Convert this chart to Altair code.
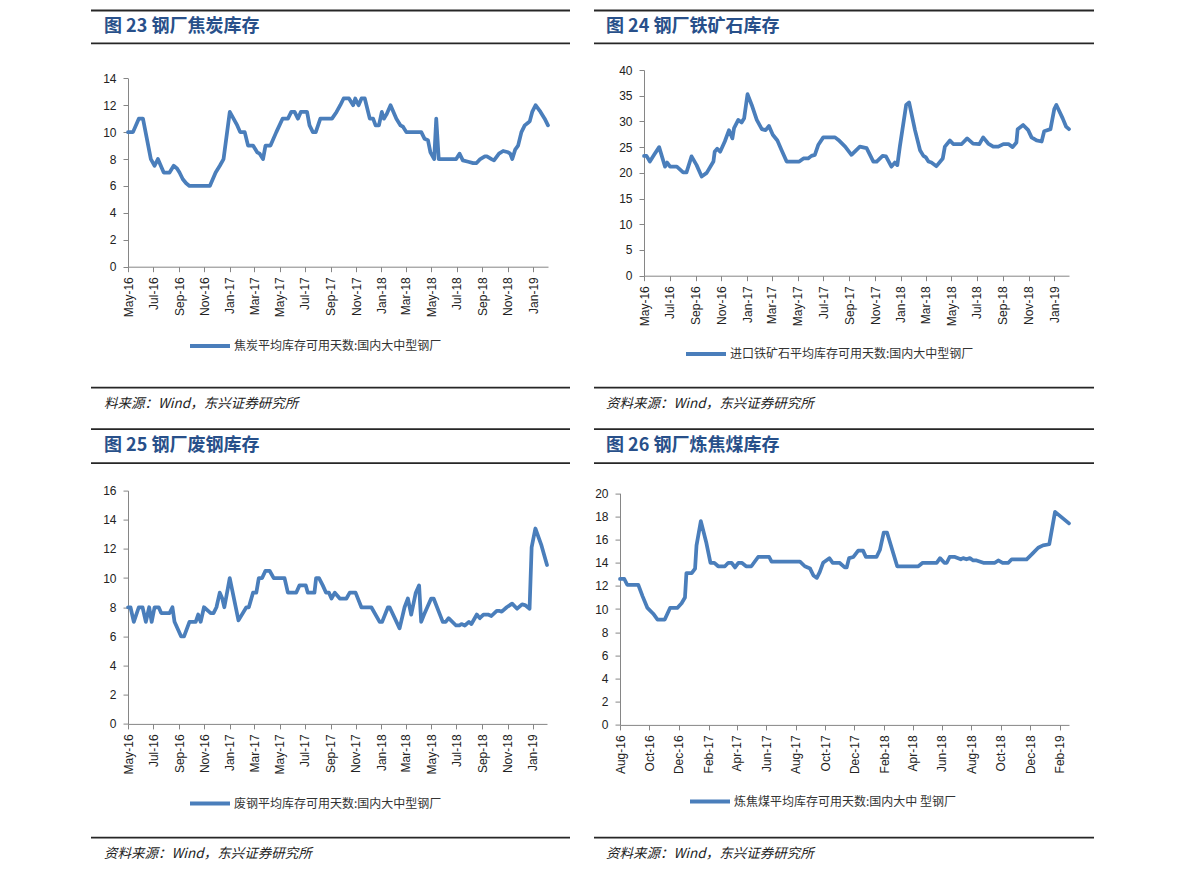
import altair as alt
import pandas as pd

# ---------------- data ----------------
coke_dates = ["2016-05-01","2016-05-13","2016-05-27","2016-06-06","2016-06-25","2016-07-04","2016-07-12","2016-07-26",
"2016-08-09","2016-08-19","2016-08-27","2016-09-02","2016-09-10","2016-09-18","2016-09-26","2016-11-14","2016-11-28",
"2016-12-08","2016-12-17","2017-01-01","2017-01-10","2017-01-19","2017-01-26","2017-02-06","2017-02-14","2017-02-26",
"2017-03-08","2017-03-14","2017-03-22","2017-03-28","2017-04-09","2017-04-23","2017-05-08","2017-05-21","2017-05-29",
"2017-06-06","2017-06-14","2017-06-21","2017-07-06","2017-07-12","2017-07-20","2017-07-27","2017-08-07","2017-09-04",
"2017-09-15","2017-09-24","2017-10-02","2017-10-15","2017-10-25","2017-10-30","2017-11-07","2017-11-14","2017-11-22",
"2017-12-04","2017-12-12","2017-12-18","2017-12-26","2018-01-02","2018-01-07","2018-01-13","2018-01-23","2018-02-06",
"2018-02-16","2018-02-22","2018-03-02","2018-04-07","2018-04-15","2018-04-23","2018-04-29","2018-05-08","2018-05-13",
"2018-05-19","2018-06-30","2018-07-08","2018-07-16","2018-07-29","2018-08-10","2018-08-18","2018-08-27","2018-09-07",
"2018-09-12","2018-09-23","2018-09-29","2018-10-11","2018-10-21","2018-11-02","2018-11-07","2018-11-12","2018-11-19",
"2018-11-26","2018-12-04","2018-12-12","2018-12-20","2018-12-24","2018-12-30","2019-01-07","2019-01-19","2019-01-29",
"2019-02-06"]
coke_values = [10,10,11,11,8,7.5,8,7,7,7.5,7.3,7,6.5,6.2,6,6,7,7.5,8,11.5,11,10.5,10,10,9,9,8.5,8.4,8,9,9,10,11,11,
11.5,11.5,11,11.5,11.5,10.5,10,10,11,11,11.5,12,12.5,12.5,12,12.5,12,12.5,12.5,11,11,10.5,10.5,11.5,11,11.3,12,11,
10.5,10.4,10,10,9.5,9.4,8.5,8,11,8,8,8.4,7.9,7.8,7.7,7.7,8,8.2,8.2,8,7.9,8.4,8.6,8.5,8.4,8,8.7,9,10,10.5,10.7,10.8,
11.5,12,11.5,11,10.5]

ore_dates = ["2016-05-01","2016-05-07","2016-05-15","2016-05-25","2016-06-06","2016-06-20","2016-06-25","2016-07-02",
"2016-07-18","2016-08-02","2016-08-10","2016-08-22","2016-09-03","2016-09-15","2016-09-27","2016-10-13","2016-10-16",
"2016-10-22","2016-10-29","2016-11-09","2016-11-19","2016-11-27","2016-12-01","2016-12-11","2016-12-19","2016-12-25",
"2017-01-02","2017-01-12","2017-01-24","2017-02-05","2017-02-14","2017-02-22","2017-03-03","2017-03-14","2017-03-24",
"2017-04-05","2017-05-05","2017-05-15","2017-05-26","2017-06-03","2017-06-11","2017-06-19","2017-07-01","2017-07-29",
"2017-08-06","2017-08-22","2017-09-06","2017-09-26","2017-10-12","2017-10-28","2017-11-05","2017-11-19","2017-11-27",
"2017-12-10","2017-12-18","2017-12-24","2017-12-30","2018-01-14","2018-01-21","2018-02-04","2018-02-16","2018-02-24",
"2018-03-02","2018-03-08","2018-03-15","2018-03-27","2018-04-11","2018-04-16","2018-04-28","2018-05-06","2018-05-26",
"2018-06-08","2018-06-22","2018-07-07","2018-07-16","2018-07-28","2018-08-09","2018-08-21","2018-09-02","2018-09-14",
"2018-09-24","2018-10-03","2018-10-06","2018-10-19","2018-10-31","2018-11-08","2018-11-20","2018-12-02","2018-12-08",
"2018-12-23","2019-01-01","2019-01-06","2019-01-21","2019-01-29","2019-02-05"]
ore_values = [23.3,23.3,22.2,23.5,25.0,21.2,22.0,21.2,21.2,20.1,20.1,23.2,21.5,19.3,20.0,22.2,24.1,24.7,24.1,26.1,28.3,
26.7,28.7,30.3,29.8,30.6,35.3,33.2,30.3,28.5,28.3,29.1,27.4,26.3,24.4,22.2,22.2,22.8,22.8,23.3,23.5,25.4,26.9,26.9,
26.4,25.1,23.5,25.1,24.8,22.2,22.2,23.3,23.2,21.2,22.0,21.5,25.1,33.2,33.7,28.3,24.4,23.3,23.0,22.2,22.0,21.3,22.8,
25.1,26.3,25.6,25.6,26.7,25.7,25.6,26.9,25.7,25.1,25.1,25.6,25.6,25.0,25.9,28.5,29.3,28.3,26.9,26.3,26.1,28.1,28.5,
32.4,33.2,30.6,29.0,28.5]

scrap_dates = ["2016-05-01","2016-05-07","2016-05-15","2016-05-27","2016-06-05","2016-06-13","2016-06-21","2016-06-27",
"2016-07-04","2016-07-14","2016-07-20","2016-08-09","2016-08-16","2016-08-21","2016-09-06","2016-09-13","2016-09-26",
"2016-10-11","2016-10-17","2016-10-23","2016-10-31","2016-11-10","2016-11-16","2016-11-23","2016-11-30","2016-12-08",
"2016-12-14","2016-12-19","2017-01-01","2017-01-22","2017-02-10","2017-02-16","2017-02-26","2017-03-06","2017-03-12",
"2017-03-20","2017-03-28","2017-04-07","2017-04-17","2017-05-13","2017-05-21","2017-06-10","2017-06-18","2017-07-03",
"2017-07-08","2017-07-24","2017-07-28","2017-08-04","2017-08-13","2017-08-21","2017-08-28","2017-09-03","2017-09-11",
"2017-09-23","2017-10-09","2017-10-17","2017-10-31","2017-11-14","2017-12-08","2017-12-28","2018-01-03","2018-01-17",
"2018-01-21","2018-02-14","2018-02-26","2018-03-06","2018-03-14","2018-03-25","2018-04-02","2018-04-07","2018-04-14",
"2018-05-01","2018-05-07","2018-05-29","2018-06-05","2018-06-12","2018-06-30","2018-07-08","2018-07-13","2018-07-21",
"2018-07-31","2018-08-06","2018-08-19","2018-08-26","2018-09-04","2018-09-15","2018-09-23","2018-10-06","2018-10-13",
"2018-10-18","2018-10-30","2018-11-12","2018-11-24","2018-12-06","2018-12-13","2018-12-24","2018-12-29","2019-01-07",
"2019-01-21","2019-02-04"]
scrap_values = [8,8,7,8,8,7,8,7,8,8,7.6,7.6,8,7,6,6,7,7,7.5,7,8,7.75,7.6,7.6,8,9,8.6,8,10,7.1,8,8,9,9,10,10,10.5,10.5,
10,10,9,9,9.5,9.5,9,9,10,10,9.5,9,9,8.6,9,8.6,8.6,9,9,8,8,7,7,8,8,6.55,8,8.6,7.5,9,9.5,7,7.5,8.6,8.6,7,7,7.25,6.75,
6.75,6.85,6.75,7,6.85,7.5,7.25,7.5,7.5,7.4,7.75,7.75,7.7,8,8.25,7.9,8.2,8.15,7.9,12.1,13.4,12.3,10.9]

coal_dates = ["2016-08-01","2016-08-10","2016-08-16","2016-09-08","2016-09-17","2016-09-27","2016-10-09","2016-10-18",
"2016-11-02","2016-11-13","2016-11-28","2016-12-07","2016-12-14","2016-12-17","2016-12-28","2017-01-04","2017-01-07",
"2017-01-16","2017-01-27","2017-02-05","2017-02-13","2017-02-21","2017-03-07","2017-03-14","2017-03-21","2017-03-28",
"2017-04-04","2017-04-11","2017-04-20","2017-05-01","2017-05-15","2017-06-07","2017-06-12","2017-08-10","2017-08-20",
"2017-08-31","2017-09-07","2017-09-14","2017-09-20","2017-09-27","2017-10-10","2017-10-17","2017-10-31","2017-11-11",
"2017-11-15","2017-11-20","2017-11-29","2017-12-09","2017-12-19","2017-12-25","2018-01-16","2018-01-23","2018-01-31",
"2018-02-07","2018-02-28","2018-04-13","2018-04-22","2018-05-21","2018-05-28","2018-06-06","2018-06-11","2018-06-17",
"2018-06-28","2018-07-10","2018-07-15","2018-07-22","2018-07-29","2018-08-05","2018-08-12","2018-08-26","2018-09-19",
"2018-09-26","2018-10-05","2018-10-17","2018-10-24","2018-11-24","2018-12-04","2018-12-18","2018-12-28","2019-01-10",
"2019-01-22","2019-02-20"]
coal_values = [12.6,12.6,12.1,12.1,11.1,10.1,9.6,9.1,9.1,10.1,10.1,10.5,11,13.1,13.1,13.5,15.5,17.6,15.8,14.0,14.0,13.7,
13.7,14.0,14.0,13.6,14.0,14.0,13.7,13.7,14.5,14.5,14.1,14.1,13.7,13.5,12.9,12.7,13.2,14.0,14.4,14.0,14.0,13.6,13.6,
14.4,14.5,15.05,15.05,14.5,14.5,15.1,16.6,16.6,13.7,13.7,14.0,14.0,14.4,14.0,14.0,14.5,14.5,14.3,14.4,14.3,14.4,14.2,
14.2,14.0,14.0,14.2,14.0,14.0,14.3,14.3,14.7,15.3,15.5,15.6,18.4,17.4]

ticks_main = ["2016-05-01","2016-07-01","2016-09-01","2016-11-01","2017-01-01","2017-03-01","2017-05-01","2017-07-01",
"2017-09-01","2017-11-01","2018-01-01","2018-03-01","2018-05-01","2018-07-01","2018-09-01","2018-11-01","2019-01-01"]
ticks_coal = ["2016-08-01","2016-10-01","2016-12-01","2017-02-01","2017-04-01","2017-06-01","2017-08-01","2017-10-01",
"2017-12-01","2018-02-01","2018-04-01","2018-06-01","2018-08-01","2018-10-01","2018-12-01","2019-02-01"]

titles = ["图 23 钢厂焦炭库存", "图 24 钢厂铁矿石库存", "图 25 钢厂废钢库存", "图 26 钢厂炼焦煤库存"]
series_names = ["焦炭平均库存可用天数:国内大中型钢厂", "进口铁矿石平均库存可用天数:国内大中型钢厂",
                "废钢平均库存可用天数:国内大中型钢厂", "炼焦煤平均库存可用天数:国内大中 型钢厂"]
sources = ["料来源：Wind，东兴证券研究所", "资料来源：Wind，东兴证券研究所",
           "资料来源：Wind，东兴证券研究所", "资料来源：Wind，东兴证券研究所"]

# ---------------- style ----------------
LINE_COLOR = "#4A7EBB"
RULE_COLOR = "#262626"
TITLE_COLOR = "#28508A"
AXIS_COLOR = "#868686"
TEXT_COLOR = "#222222"
FONT = "Liberation Sans"
CJK = "Noto Sans CJK SC"


def dt(s):
    y, m, d = s.split("-")
    return alt.DateTime(year=int(y), month=int(m), date=int(d))


def panel(dates, values, series, title, source, g):
    # view origin (shared by the panels of one row); the plot itself may start lower
    ox, oy = g["origin"]
    plot_top, plot_bottom = g["plot_y"]
    view_h = plot_bottom - oy
    df = pd.DataFrame({"date": pd.to_datetime(dates), "value": values, "series": series})
    x = alt.X("date:T", title=None,
              scale=alt.Scale(domain=[dt(g["x0"]), dt(g["x1"])], nice=False),
              axis=alt.Axis(values=[dt(t) for t in g["xticks"]], format="%b-%y", labelAngle=-90,
                            labelFont=FONT, labelFontSize=12, labelColor=TEXT_COLOR,
                            domainColor=AXIS_COLOR, tickColor=AXIS_COLOR, tickSize=5,
                            labelPadding=5, grid=False, labelOverlap=False, labelBound=False,
                            labelFlush=False))
    y = alt.Y("value:Q", title=None,
              scale=alt.Scale(domain=[0, g["ymax"]], nice=False, range=[view_h, plot_top - oy]),
              axis=alt.Axis(values=g["yticks"], labelFont=FONT, labelFontSize=12, labelColor=TEXT_COLOR,
                            domainColor=AXIS_COLOR, tickColor=AXIS_COLOR, tickSize=5,
                            labelPadding=7, grid=False))
    color = alt.Color("series:N", scale=alt.Scale(range=[LINE_COLOR]),
                      legend=alt.Legend(orient="none", legendX=g["leg_x"] - ox, legendY=g["leg_y"] - oy - 22,
                                        title=None, symbolType="stroke", symbolSize=1600,
                                        symbolStrokeWidth=4, labelFont=CJK, labelFontSize=12,
                                        labelColor="#333333", labelLimit=0, padding=0, labelOffset=2))
    line = alt.Chart(df).mark_line(strokeWidth=3.75, strokeJoin="round", strokeCap="round").encode(
        x=x, y=y, color=color)

    layers = [line]
    one = pd.DataFrame({"k": [0]})
    for ry in g["rules"]:
        layers.append(alt.Chart(one).mark_rule(color=RULE_COLOR, strokeWidth=1.8).encode(
            x=alt.value(g["rule_x"][0] - ox), x2=alt.value(g["rule_x"][1] - ox), y=alt.value(ry - oy)))
    layers.append(alt.Chart(pd.DataFrame({"t": [title]})).mark_text(
        align="left", baseline="middle", font=CJK, fontSize=18, fontWeight="bold", color=TITLE_COLOR).encode(
        text="t:N", x=alt.value(g["title_x"] - ox), y=alt.value(g["title_y"] - oy)))
    layers.append(alt.Chart(pd.DataFrame({"t": [source]})).mark_text(
        align="left", baseline="middle", font=CJK, fontSize=13.5, fontStyle="italic", color=TEXT_COLOR).encode(
        text="t:N", x=alt.value(g["src_x"] - ox), y=alt.value(g["src_y"] - oy)))
    return alt.layer(*layers).properties(width=g["width"], height=view_h)


g23 = dict(origin=(128, 70), plot_y=(78.3, 266.7), width=420, x0="2016-05-01", x1="2019-02-06", xticks=ticks_main,
           ymax=14, yticks=list(range(0, 15, 2)), rule_x=(91, 570), rules=[10.5, 43.3, 387.7],
           title_x=104, title_y=27, src_x=104, src_y=404, leg_x=188, leg_y=346)
g24 = dict(origin=(644, 70), plot_y=(70, 275.7), width=425, x0="2016-05-01", x1="2019-02-05", xticks=ticks_main,
           ymax=40, yticks=list(range(0, 41, 5)), rule_x=(594, 1094), rules=[10.5, 43.3, 387.7],
           title_x=606, title_y=27, src_x=606, src_y=404, leg_x=684, leg_y=354)
g25 = dict(origin=(128, 489), plot_y=(489, 722.3), width=419, x0="2016-05-01", x1="2019-02-04", xticks=ticks_main,
           ymax=16, yticks=list(range(0, 17, 2)), rule_x=(91, 570), rules=[427.5, 461.5, 836],
           title_x=104, title_y=444.5, src_x=104, src_y=852, leg_x=188, leg_y=802)
g26 = dict(origin=(620, 489), plot_y=(491.7, 723.3), width=449, x0="2016-08-01", x1="2019-02-20", xticks=ticks_coal,
           ymax=20, yticks=list(range(0, 21, 2)), rule_x=(594, 1094), rules=[427.5, 461.5, 836],
           title_x=606, title_y=444.5, src_x=606, src_y=852, leg_x=688, leg_y=800)

p23 = panel(coke_dates, coke_values, series_names[0], titles[0], sources[0], g23)
p24 = panel(ore_dates, ore_values, series_names[1], titles[1], sources[1], g24)
p25 = panel(scrap_dates, scrap_values, series_names[2], titles[2], sources[2], g25)
p26 = panel(coal_dates, coal_values, series_names[3], titles[3], sources[3], g26)

chart = alt.concat(p23, p24, p25, p26, columns=2, align="none", bounds="full",
                   spacing={"row": 16.6, "column": 22}).resolve_scale(color="independent").configure_view(
    stroke=None).properties(padding={"left": 82, "top": 1, "right": 5, "bottom": 5},
                            background="white")

chart.save("out.html", embed_options={"renderer": "svg", "actions": False})
